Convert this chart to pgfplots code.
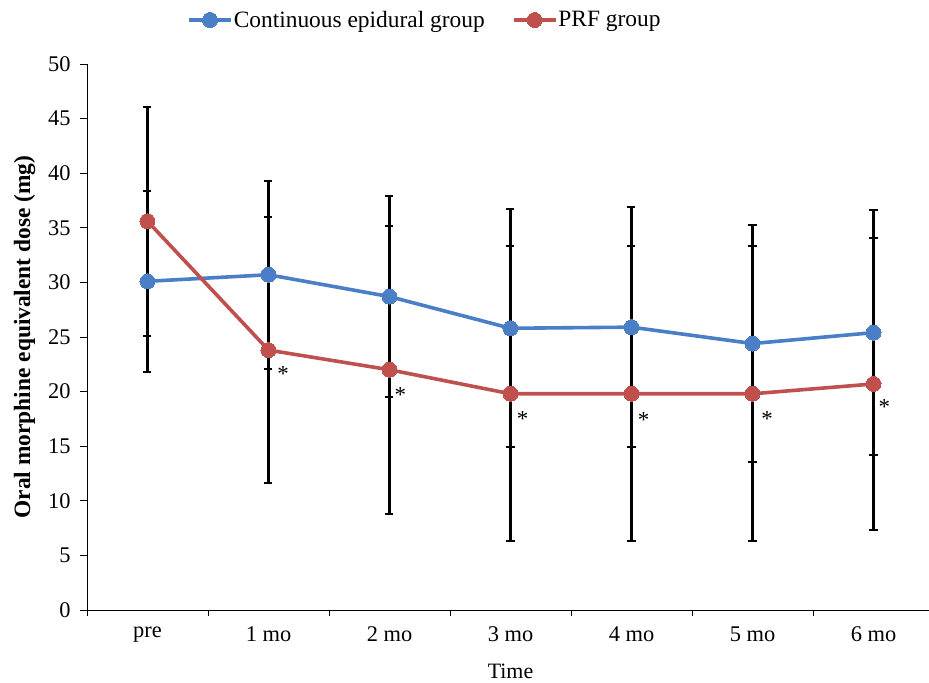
\documentclass[border=0pt]{standalone}
\usepackage{fontspec}
\setmainfont{Liberation Serif}
\usepackage{pgfplots}
\pgfplotsset{compat=1.18}
\usepackage{pgfplotstable}
\definecolor{cblue}{HTML}{4A7EC6}
\definecolor{cred}{HTML}{C0504D}

\pgfplotstableread{
x y e
0 30.1 8.3
1 30.7 8.6
2 28.7 9.2
3 25.8 10.9
4 25.9 11.0
5 24.4 10.85
6 25.4 11.2
}\bluetab

\pgfplotstableread{
x y e
0 35.6 10.5
1 23.8 12.2
2 22.0 13.2
3 19.8 13.5
4 19.8 13.5
5 19.8 13.5
6 20.7 13.4
}\redtab

\pgfplotstableread{
x y
1.12 22.0
2.09 20.1
3.10 17.9
4.10 17.8
5.12 17.9
6.09 19.0
}\startab

\begin{document}
\begin{tikzpicture}
\path[use as bounding box] (-87bp,-73bp) rectangle (842bp,610bp);
\begin{axis}[
  at={(0,0)}, anchor=south west,
  scale only axis, width=847bp, height=546bp,
  xmin=-0.5, xmax=6.5, ymin=0, ymax=50,
  axis x line*=bottom, axis y line*=left,
  axis line style={black, line width=0.9bp},
  xtick={0,...,6},
  xticklabels={pre,1 mo,2 mo,3 mo,4 mo,5 mo,6 mo},
  minor xtick={-0.5,0.5,...,6.5},
  major x tick style={draw=none},
  ytick={0,5,...,50},
  tick align=outside,
  major tick length=7bp,
  minor tick length=6bp,
  tick style={black, line width=0.8bp},
  ticklabel style={font=\fontsize{22.5}{26}\selectfont},
  /pgf/number format/assume math mode=true,
  yticklabel style={xshift=-6bp},
  xticklabel style={yshift=-6bp},
  xlabel={Time},
  xlabel style={at={(axis description cs:0.5,-0.126)}, anchor=base, font=\fontsize{22}{26}\selectfont},
  ylabel={\textbf{Oral morphine equivalent dose (mg)}},
  ylabel style={at={(axis description cs:-0.0738,0.5)}, anchor=center, rotate=0, font=\fontsize{23.5}{27}\selectfont},
  legend style={at={(axis description cs:0.1145,1.0806)}, anchor=west, draw=none, fill=none,
    font=\fontsize{23.5}{27}\selectfont, legend columns=2,
    /tikz/every even column/.append style={column sep=26bp},
    nodes={inner sep=1bp}},
  legend image code/.code={\draw[mark repeat=2,mark phase=2,#1] plot coordinates {(0bp,0bp)(21bp,0bp)(42bp,0bp)};},
  clip=false,
]
% error bars first
\addplot[draw=none, forget plot,
  error bars/.cd, y dir=both, y explicit,
  error bar style={draw=black, line width=2.3bp},
  error mark options={rotate=90, draw=black, mark size=4bp, line width=2bp}]
  table[x=x, y=y, y error=e]{\bluetab};
\addplot[draw=none, forget plot,
  error bars/.cd, y dir=both, y explicit,
  error bar style={draw=black, line width=2.3bp},
  error mark options={rotate=90, draw=black, mark size=4bp, line width=2bp}]
  table[x=x, y=y, y error=e]{\redtab};
% lines
\addplot[cblue, line width=3.6bp, mark=*, mark size=7.5bp, mark options={solid, fill=cblue, draw=cblue, line width=0pt}]
  table[x=x, y=y]{\bluetab};
\addlegendentry{Continuous epidural group}
\addplot[cred, line width=3.6bp, mark=*, mark size=7.5bp, mark options={solid, fill=cred, draw=cred, line width=0pt}]
  table[x=x, y=y]{\redtab};
\addlegendentry{PRF group}
% significance asterisks
\addplot[draw=none, mark=none, forget plot,
  nodes near coords={*},
  every node near coord/.style={anchor=center, black, font=\fontsize{23}{26}\selectfont, yshift=-4bp}]
  table[x=x, y=y]{\startab};
\end{axis}
\end{tikzpicture}
\end{document}
